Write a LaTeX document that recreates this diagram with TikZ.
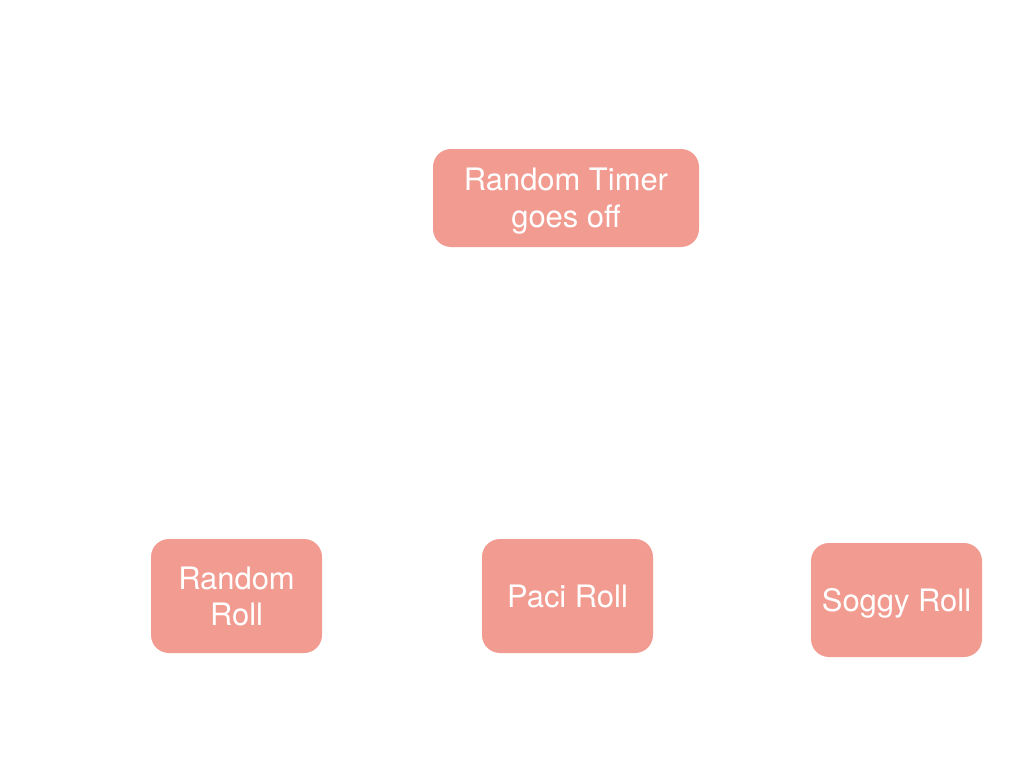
\documentclass[tikz,border=0pt]{standalone}
\usepackage{fontspec}
\setsansfont{TeX Gyre Heros}
\usepackage{xcolor}
\usetikzlibrary{positioning}
\definecolor{rollpink}{HTML}{F29C91}

\begin{document}
\begin{tikzpicture}[
      node distance=2cm,on grid,
      block/.style={rectangle,rounded corners=0.18cm,fill=rollpink,text=white,
        font=\sffamily\fontsize{8.8}{10.4}\selectfont,align=center,text depth=0pt,
        minimum width=1.71cm,minimum height=1.14cm,inner sep=0pt}]
      \useasboundingbox[fill=white] (0,0) rectangle (10.24,-7.68);

      \node[block, minimum width=2.66cm, minimum height=0.98cm] (timer) at (5.66,-1.98) {Random Timer\\goes off};
      \node[block, below=3.98cm of timer, xshift=0.015cm] (paci_roll) {Paci Roll};
      \node[block, left=3.31cm of paci_roll] (random_roll) {Random\\Roll};
      \node[block, right=3.29cm of paci_roll, yshift=-0.04cm] (soggy_roll) {Soggy Roll};
\end{tikzpicture}
\end{document}
